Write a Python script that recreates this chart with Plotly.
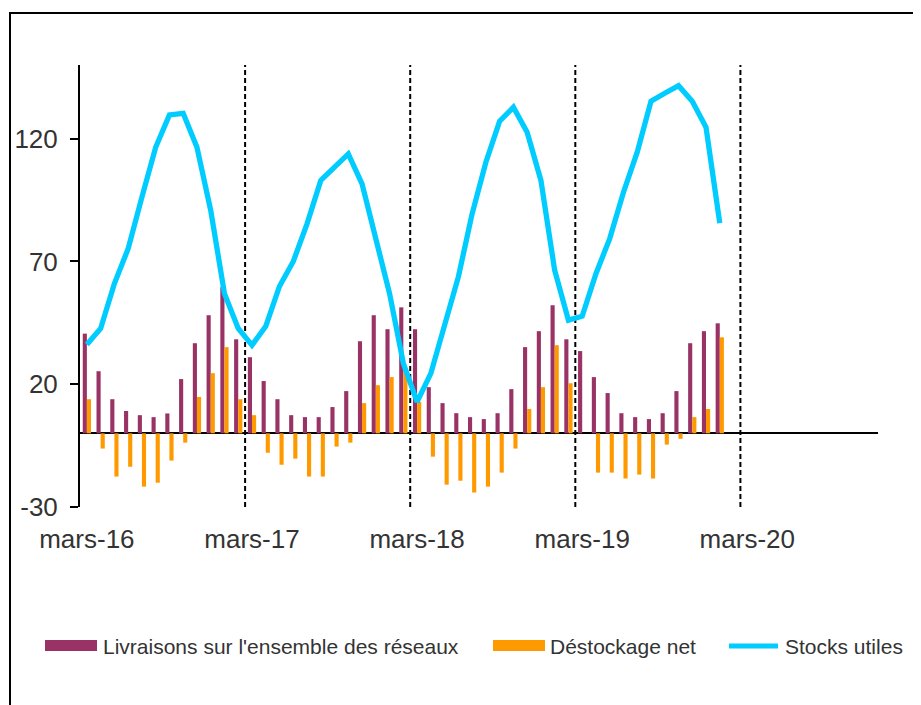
import plotly.graph_objects as go

# ---- data (monthly, mars-16 .. janv-20) ----
livraisons = [40.6, 25.3, 13.9, 9.1, 7.4, 6.6, 8.1, 22.1, 36.7, 48.1, 59.5, 38.3,
              31.0, 21.3, 13.9, 7.4, 6.6, 6.6, 10.7, 17.2, 37.5, 48.1, 42.4, 51.3,
              42.4, 18.8, 12.3, 8.2, 6.6, 5.8, 8.2, 18.0, 35.1, 41.6, 52.2, 38.3,
              33.5, 22.9, 16.4, 8.2, 6.6, 5.8, 8.2, 17.2, 36.7, 41.6, 44.8]
destockage = [13.9, -6.2, -17.6, -13.6, -21.7, -20.1, -11.1, -3.8, 14.8, 24.5, 35.1, 13.9,
              7.4, -7.9, -12.8, -10.3, -17.6, -17.6, -5.4, -3.8, 12.3, 19.6, 22.9, 25.7,
              12.8, -9.5, -20.9, -19.3, -24.1, -21.7, -16.0, -6.2, 9.9, 18.8, 35.9, 20.4,
              0.0, -16.0, -16.0, -18.4, -16.8, -18.4, -4.6, -2.2, 6.6, 9.9, 39.1]
stocks = [36.2, 42.7, 61.0, 75.2, 96.2, 116.5, 129.7, 130.3, 116.5, 90.8, 56.9, 42.7,
          35.9, 43.6, 59.9, 70.0, 85.3, 103.0, 108.4, 113.8, 101.6, 79.9, 56.9, 28.5,
          12.8, 24.4, 43.3, 63.7, 89.4, 110.4, 127.1, 132.8, 122.6, 103.0, 66.4, 46.1,
          47.7, 65.0, 79.3, 98.2, 114.5, 135.2, 138.5, 141.6, 135.2, 124.6, 85.6]
tick_labels = ["mars-16", "mars-17", "mars-18", "mars-19", "mars-20"]
y_ticks = [-30, 20, 70, 120]
y_tick_text = ["-30", "20", "70", "120"]

x = list(range(len(stocks)))
tick_vals = [12 * k for k in range(len(tick_labels))]

PURPLE = "#993366"
ORANGE = "#FF9900"
CYAN = "#00CCFF"
TXT = "#333333"

# page offset of the plot div (default body margin)
OFF = 8
W, H = 921 - OFF, 705 - OFF
L, R, T, B = 80 - OFF, 43, 65 - OFF, 198
PW, PH = W - L - R, H - T - B


def px(xp):
    return (xp - OFF - L) / PW


def py(yp):
    return (H - B - (yp - OFF)) / PH


fig = go.Figure()
fig.add_trace(go.Bar(x=x, y=livraisons, name="Livraisons sur l'ensemble des réseaux",
                     marker=dict(color=PURPLE, line=dict(width=0))))
fig.add_trace(go.Bar(x=x, y=destockage, name="Déstockage net",
                     marker=dict(color=ORANGE, line=dict(width=0))))
fig.add_trace(go.Scatter(x=x, y=stocks, name="Stocks utiles", mode="lines",
                         line=dict(color=CYAN, width=5.3)))

shapes = []
# dashed separators between february and march
for tv in tick_vals[1:]:
    shapes.append(dict(type="line", xref="x", yref="paper", x0=tv - 0.5, x1=tv - 0.5,
                       y0=0, y1=1, line=dict(color="black", width=2, dash="5px,3px"),
                       layer="below"))
# outer chart border
shapes.append(dict(type="rect", xref="paper", yref="paper", x0=px(10), x1=px(935),
                   y0=py(720), y1=py(13), line=dict(color="black", width=2),
                   fillcolor="rgba(0,0,0,0)"))

# custom legend
leg_y = 646
shapes.append(dict(type="rect", xref="paper", yref="paper", x0=px(45), x1=px(97),
                   y0=py(651), y1=py(640), fillcolor=PURPLE, line=dict(width=0)))
shapes.append(dict(type="rect", xref="paper", yref="paper", x0=px(493), x1=px(545),
                   y0=py(651), y1=py(640), fillcolor=ORANGE, line=dict(width=0)))
shapes.append(dict(type="line", xref="paper", yref="paper", x0=px(729), x1=px(778),
                   y0=py(leg_y), y1=py(leg_y), line=dict(color=CYAN, width=5)))

legend_font = dict(family="Liberation Sans, Arial", size=21, color=TXT)
annotations = []
for txt, xs in [("Livraisons sur l'ensemble des réseaux", 101),
                ("Déstockage net", 548),
                ("Stocks utiles", 783)]:
    annotations.append(dict(text=txt, xref="paper", yref="paper", x=px(xs), y=py(leg_y),
                            xanchor="left", yanchor="middle", showarrow=False,
                            font=legend_font))

fig.update_layout(
    width=W, height=H,
    margin=dict(l=L, r=R, t=T, b=B, pad=0, autoexpand=False),
    paper_bgcolor="white", plot_bgcolor="white",
    barmode="group", bargap=0.4, bargroupgap=0,
    showlegend=False,
    font=dict(family="Liberation Sans, Arial", size=26, color=TXT),
    shapes=shapes, annotations=annotations,
    xaxis=dict(range=[-0.5, 57.5], tickmode="array", tickvals=tick_vals,
               ticktext=tick_labels, showline=False, showgrid=False, zeroline=False,
               ticks="", ticklabelstandoff=14, automargin=False,
               tickfont=dict(family="Liberation Sans, Arial", size=26, color=TXT)),
    yaxis=dict(range=[-30, 150], tickmode="array", tickvals=y_ticks, ticktext=y_tick_text,
               showline=True, linecolor="black", linewidth=2, mirror=False,
               ticks="outside", ticklen=8, tickwidth=2, tickcolor="black",
               showgrid=False, zeroline=True, zerolinecolor="black", zerolinewidth=2,
               ticklabelstandoff=7, automargin=False,
               tickfont=dict(family="Liberation Sans, Arial", size=26, color=TXT)),
)

fig.write_html("out.html")
